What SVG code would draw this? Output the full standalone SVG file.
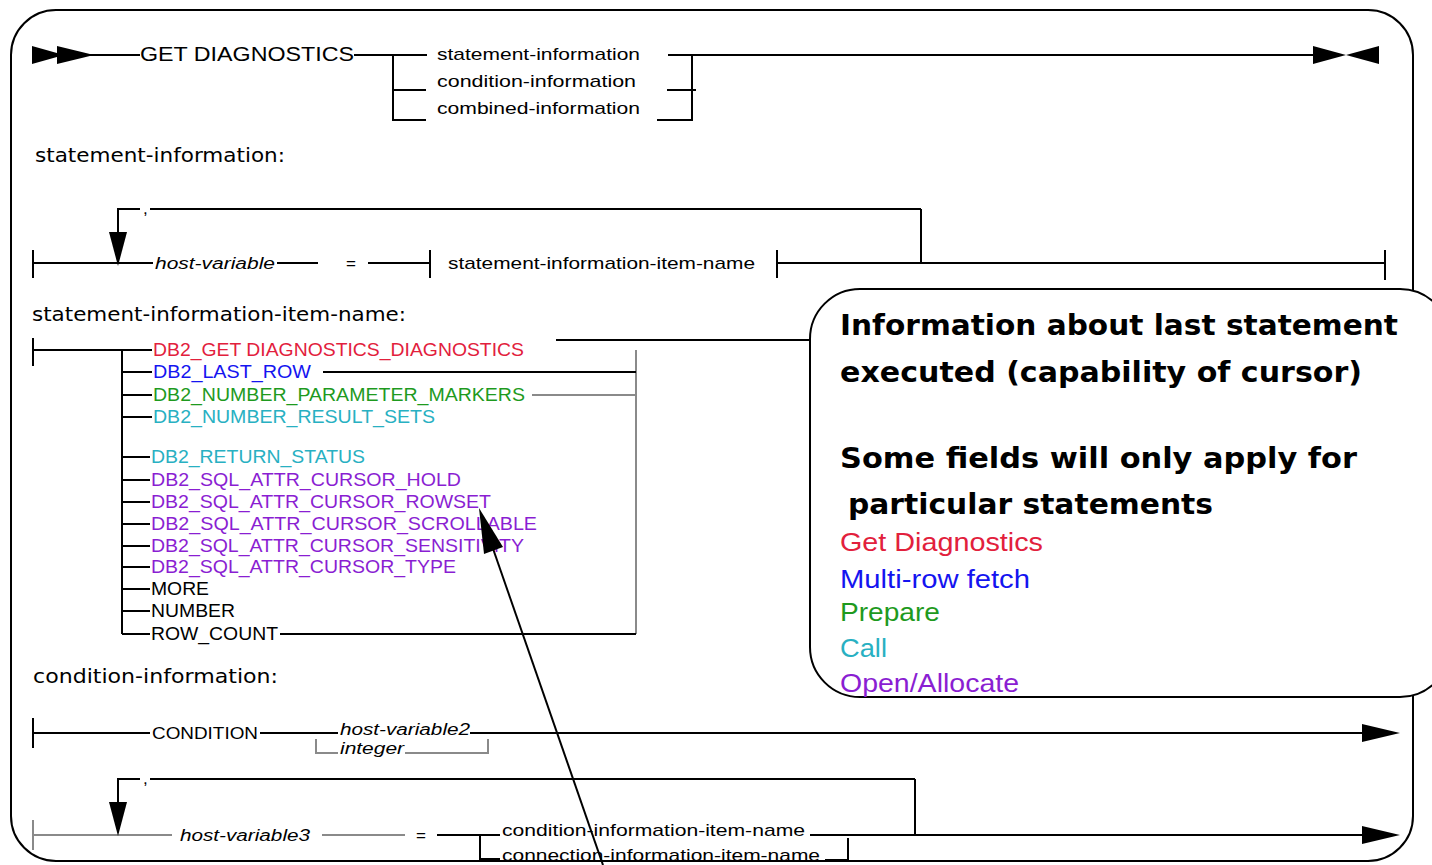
<svg xmlns="http://www.w3.org/2000/svg" width="1432" height="865" viewBox="0 0 1432 865">
<style>
  .ln { stroke: #000; stroke-width: 2; fill: none; }
  .gl { stroke: #8a8a8a; stroke-width: 2; fill: none; }
  .t { font-family: "Liberation Sans", Arial, sans-serif; fill: #000; }
  .syn { font-size: 17px; }
  .it { font-size: 16px; font-style: italic; }
  .lbl { font-family: "DejaVu Sans", "Liberation Sans", sans-serif; font-size: 19px; fill: #000; }
  .item { font-size: 18px; }
  .head { font-family: "DejaVu Sans", "Liberation Sans", sans-serif; font-size: 28px; font-weight: bold; fill: #000; }
  .leg { font-size: 25px; }
  .red { fill: #e2203c; }
  .blue { fill: #1414f0; }
  .green { fill: #1e9a1e; }
  .cyan { fill: #28b0c2; }
  .purple { fill: #8a1ed2; }
</style>
<defs>
  <marker id="endArrow" markerWidth="40" markerHeight="20" refX="0" refY="9" orient="auto" markerUnits="userSpaceOnUse">
    <polygon points="0,0 38,9 0,18" fill="#000"/>
  </marker>
</defs>

<rect id="frame" x="11" y="10" width="1402" height="851" rx="45" ry="45" fill="#fff" stroke="#000" stroke-width="2"/>

<g id="connectors">
  <!-- GET DIAGNOSTICS row -->
  <polygon points="32,46 64,55 32,64" fill="#000"/>
  <polygon points="57,46 94,55 57,64" fill="#000"/>
  <line class="ln" x1="90" y1="55" x2="140" y2="55"/>
  <line class="ln" x1="354" y1="55" x2="393" y2="55"/>
  <polyline class="ln" points="427,55 393,55 393,120 426,120"/>
  <line class="ln" x1="393" y1="90" x2="426" y2="90"/>
  <line class="ln" x1="668" y1="55" x2="1314" y2="55"/>
  <polyline class="ln" points="657,120 692,120 692,55"/>
  <line class="ln" x1="667" y1="90" x2="696" y2="90"/>
  <polygon points="1313,46 1346,55 1313,64" fill="#000"/>
  <polygon points="1379,46 1346,55 1379,64" fill="#000"/>

  <!-- statement-information row -->
  <line class="ln" x1="33" y1="250" x2="33" y2="278"/>
  <line class="ln" x1="33" y1="263" x2="153" y2="263"/>
  <polyline class="ln" points="118,240 118,209 140,209"/>
  <line class="ln" x1="150" y1="209" x2="921" y2="209"/>
  <line class="ln" x1="921" y1="209" x2="921" y2="263"/>
  <polygon points="109,232 127,232 118,266" fill="#000"/>
  <line class="ln" x1="277" y1="263" x2="318" y2="263"/>
  <line class="ln" x1="368" y1="263" x2="430" y2="263"/>
  <line class="ln" x1="430" y1="250" x2="430" y2="278"/>
  <line class="ln" x1="777" y1="250" x2="777" y2="278"/>
  <line class="ln" x1="777" y1="263" x2="1385" y2="263"/>
  <line class="ln" x1="1385" y1="250" x2="1385" y2="280"/>

  <!-- statement-information-item-name -->
  <line class="ln" x1="33" y1="338" x2="33" y2="366"/>
  <line class="ln" x1="33" y1="350" x2="152" y2="350"/>
  <line class="ln" x1="122" y1="350" x2="122" y2="634"/>
  <line class="ln" x1="122" y1="372" x2="152" y2="372"/>
  <line class="ln" x1="122" y1="395" x2="152" y2="395"/>
  <line class="ln" x1="122" y1="417" x2="152" y2="417"/>
  <line class="ln" x1="122" y1="457" x2="150" y2="457"/>
  <line class="ln" x1="122" y1="480" x2="150" y2="480"/>
  <line class="ln" x1="122" y1="502" x2="150" y2="502"/>
  <line class="ln" x1="122" y1="524" x2="150" y2="524"/>
  <line class="ln" x1="122" y1="546" x2="150" y2="546"/>
  <line class="ln" x1="122" y1="567" x2="150" y2="567"/>
  <line class="ln" x1="122" y1="589" x2="150" y2="589"/>
  <line class="ln" x1="122" y1="611" x2="150" y2="611"/>
  <line class="ln" x1="122" y1="634" x2="150" y2="634"/>
  <line class="ln" x1="556" y1="340" x2="812" y2="340"/>
  <line class="gl" x1="636" y1="350" x2="636" y2="634"/>
  <line class="ln" x1="323" y1="372" x2="636" y2="372"/>
  <line class="gl" x1="532" y1="395" x2="636" y2="395"/>
  <line class="ln" x1="280" y1="634" x2="636" y2="634"/>

  <!-- condition-information row 1 -->
  <line class="ln" x1="33" y1="718" x2="33" y2="748"/>
  <line class="ln" x1="33" y1="733" x2="150" y2="733"/>
  <line class="ln" x1="260" y1="733" x2="338" y2="733"/>
  <line class="ln" x1="470" y1="733" x2="1362" y2="733" marker-end="url(#endArrow)"/>
  <polyline class="gl" points="316,739 316,753 338,753"/>
  <polyline class="gl" points="405,753 488,753 488,739"/>

  <!-- condition-information row 2 -->
  <line class="gl" x1="33" y1="820" x2="33" y2="850"/>
  <line class="gl" x1="33" y1="835" x2="172" y2="835"/>
  <polyline class="ln" points="118,810 118,779 140,779"/>
  <line class="ln" x1="150" y1="779" x2="915" y2="779"/>
  <line class="ln" x1="915" y1="779" x2="915" y2="835"/>
  <polygon points="109,802 127,802 118,836" fill="#000"/>
  <line class="gl" x1="322" y1="835" x2="405" y2="835"/>
  <line class="ln" x1="437" y1="835" x2="500" y2="835"/>
  <polyline class="ln" points="480,835 480,859 500,859"/>
  <line class="ln" x1="810" y1="835" x2="1362" y2="835" marker-end="url(#endArrow)"/>
  <polyline class="ln" points="825,860 848,860 848,838"/>
</g>

<g id="top-syntax">
  <text class="t" x="140" y="61" font-size="20" textLength="214" lengthAdjust="spacingAndGlyphs">GET DIAGNOSTICS</text>
  <text class="t syn" x="437" y="60" textLength="203" lengthAdjust="spacingAndGlyphs">statement-information</text>
  <text class="t syn" x="437" y="87" textLength="199" lengthAdjust="spacingAndGlyphs">condition-information</text>
  <text class="t syn" x="437" y="114" textLength="203" lengthAdjust="spacingAndGlyphs">combined-information</text>
</g>

<g id="statement-information">
  <text class="lbl" x="35" y="162" textLength="250" lengthAdjust="spacingAndGlyphs">statement-information:</text>
  <text class="t syn" x="143" y="214">,</text>
  <text class="t it" x="155" y="269" textLength="120" lengthAdjust="spacingAndGlyphs">host-variable</text>
  <text class="t syn" x="346" y="269">=</text>
  <text class="t syn" x="448" y="269" textLength="307" lengthAdjust="spacingAndGlyphs">statement-information-item-name</text>
</g>

<g id="statement-information-item-name">
  <text class="lbl" x="32" y="321" textLength="374" lengthAdjust="spacingAndGlyphs">statement-information-item-name:</text>
  <text class="t item red" x="153" y="356" textLength="371" lengthAdjust="spacingAndGlyphs">DB2_GET DIAGNOSTICS_DIAGNOSTICS</text>
  <text class="t item blue" x="153" y="378" textLength="158" lengthAdjust="spacingAndGlyphs">DB2_LAST_ROW</text>
  <text class="t item green" x="153" y="401" textLength="372" lengthAdjust="spacingAndGlyphs">DB2_NUMBER_PARAMETER_MARKERS</text>
  <text class="t item cyan" x="153" y="423" textLength="282" lengthAdjust="spacingAndGlyphs">DB2_NUMBER_RESULT_SETS</text>
  <text class="t item cyan" x="151" y="463" textLength="214" lengthAdjust="spacingAndGlyphs">DB2_RETURN_STATUS</text>
  <text class="t item purple" x="151" y="486" textLength="310" lengthAdjust="spacingAndGlyphs">DB2_SQL_ATTR_CURSOR_HOLD</text>
  <text class="t item purple" x="151" y="508" textLength="340" lengthAdjust="spacingAndGlyphs">DB2_SQL_ATTR_CURSOR_ROWSET</text>
  <text class="t item purple" x="151" y="530" textLength="386" lengthAdjust="spacingAndGlyphs">DB2_SQL_ATTR_CURSOR_SCROLLABLE</text>
  <text class="t item purple" x="151" y="552" textLength="373" lengthAdjust="spacingAndGlyphs">DB2_SQL_ATTR_CURSOR_SENSITIVITY</text>
  <text class="t item purple" x="151" y="573" textLength="305" lengthAdjust="spacingAndGlyphs">DB2_SQL_ATTR_CURSOR_TYPE</text>
  <text class="t item" x="151" y="595" textLength="58" lengthAdjust="spacingAndGlyphs">MORE</text>
  <text class="t item" x="151" y="617" textLength="84" lengthAdjust="spacingAndGlyphs">NUMBER</text>
  <text class="t item" x="151" y="640" textLength="127" lengthAdjust="spacingAndGlyphs">ROW_COUNT</text>
</g>

<g id="condition-information">
  <text class="lbl" x="33" y="683" textLength="245" lengthAdjust="spacingAndGlyphs">condition-information:</text>
  <text class="t syn" x="152" y="739" textLength="106" lengthAdjust="spacingAndGlyphs">CONDITION</text>
  <text class="t it" x="340" y="735" textLength="130" lengthAdjust="spacingAndGlyphs">host-variable2</text>
  <text class="t it" x="340" y="754" textLength="64" lengthAdjust="spacingAndGlyphs">integer</text>
  <text class="t syn" x="143" y="784">,</text>
  <text class="t it" x="180" y="841" textLength="130" lengthAdjust="spacingAndGlyphs">host-variable3</text>
  <text class="t syn" x="416" y="841">=</text>
  <text class="t syn" x="502" y="836" textLength="303" lengthAdjust="spacingAndGlyphs">condition-information-item-name</text>
  <text class="t syn" x="502" y="861" textLength="318" lengthAdjust="spacingAndGlyphs">connection-information-item-name</text>
</g>

<g id="callout">
  <rect x="810" y="289" width="640" height="408" rx="50" ry="50" fill="#fff" stroke="#000" stroke-width="2"/>
  <text class="head" x="840" y="335" textLength="558" lengthAdjust="spacingAndGlyphs">Information about last statement</text>
  <text class="head" x="840" y="382" textLength="522" lengthAdjust="spacingAndGlyphs">executed (capability of cursor)</text>
  <text class="head" x="840" y="468" textLength="517" lengthAdjust="spacingAndGlyphs">Some fields will only apply for</text>
  <text class="head" x="848" y="514" textLength="365" lengthAdjust="spacingAndGlyphs">particular statements</text>
  <text class="t leg red" x="840" y="551" textLength="203" lengthAdjust="spacingAndGlyphs">Get Diagnostics</text>
  <text class="t leg blue" x="840" y="588" textLength="190" lengthAdjust="spacingAndGlyphs">Multi-row fetch</text>
  <text class="t leg green" x="840" y="621" textLength="100" lengthAdjust="spacingAndGlyphs">Prepare</text>
  <text class="t leg cyan" x="840" y="657" textLength="47" lengthAdjust="spacingAndGlyphs">Call</text>
  <text class="t leg purple" x="840" y="692" textLength="179" lengthAdjust="spacingAndGlyphs">Open/Allocate</text>
</g>

<g id="pointer">
  <line class="ln" x1="603" y1="865" x2="490" y2="540" stroke-width="1.5"/>
  <polygon points="479,508 503,547 484,554" fill="#000"/>
</g>
</svg>
